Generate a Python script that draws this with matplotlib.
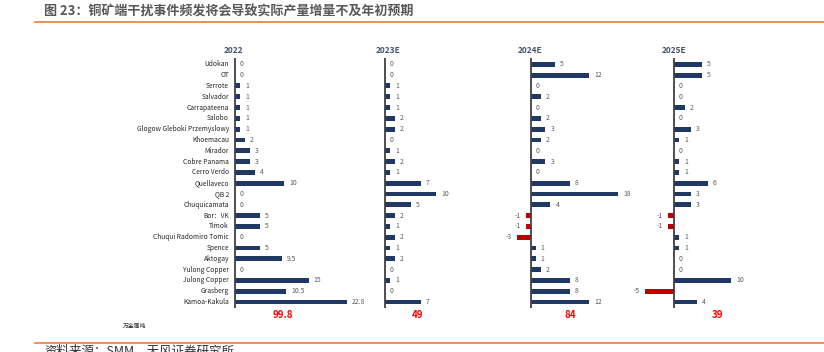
import matplotlib
matplotlib.use("Agg")
import matplotlib.pyplot as plt
from matplotlib.lines import Line2D

plt.rcParams['font.family'] = ['Noto Sans CJK SC', 'DejaVu Sans']

mines = ["Udokan", "OT", "Serrote", "Salvador", "Carrapateena", "Salobo",
         "Glogow Gleboki Przemyslowy", "Khoemacau", "Mirador", "Cobre Panama",
         "Cerro Verdo", "Quellaveco", "QB 2", "Chuquicamata", "Bor：VK", "Timok",
         "Chuqui Radomiro Tomic", "Spence", "Aktogay", "Yulong Copper",
         "Julong Copper", "Grasberg", "Kamoa-Kakula"]
years = ["2022", "2023E", "2024E", "2025E"]
v2022 = [0, 0, 1, 1, 1, 1, 1, 2, 3, 3, 4, 10, 0, 0, 5, 5, 0, 5, 9.5, 0, 15, 10.5, 22.8]
v2023 = [0, 0, 1, 1, 1, 2, 2, 0, 1, 2, 1, 7, 10, 5, 2, 1, 2, 1, 2, 0, 1, 0, 7]
v2024 = [5, 12, 0, 2, 0, 2, 3, 2, 0, 3, 0, 8, 18, 4, -1, -1, -3, 1, 1, 2, 8, 8, 12]
v2025 = [5, 5, 0, 0, 2, 0, 3, 1, 0, 1, 1, 6, 3, 3, -1, -1, 1, 1, 0, 0, 10, -5, 4]
totals = ["99.8", "49", "84", "39"]
series = [v2022, v2023, v2024, v2025]

W, H = 824, 352
fig = plt.figure(figsize=(W / 100, H / 100), dpi=100)
fig.patch.set_facecolor("white")

def fx(px):
    return px / W

def fy(py):
    return 1 - py / H

NAVY = "#1F3864"
RED = "#C00000"
GREY = "#595959"

# panel geometry (pixels)
axis_x = [235, 385, 531, 673.5]
scale = [4.9, 5.1, 4.83, 5.77]          # px per unit
title_x = [233, 388, 530.5, 673.5]
total_dx = [48, 33, 39, 44]
top_px, bot_px = 58, 308
row0_px, rowN_px = 64.3, 302.0
n = len(mines)
sp = (rowN_px - row0_px) / (n - 1)
ylim_top = -(row0_px - top_px) / sp
ylim_bot = (n - 1) + (bot_px - rowN_px) / sp

left_pad, right_pad = 60, 125
for k, vals in enumerate(series):
    s = scale[k]
    ax = fig.add_axes([fx(axis_x[k] - left_pad), fy(bot_px),
                       fx(left_pad + right_pad), (bot_px - top_px) / H])
    ax.set_xlim(-left_pad / s, right_pad / s)
    ax.set_ylim(ylim_bot, ylim_top)
    ax.axis("off")
    ypos = list(range(n))
    colors = [RED if v < 0 else NAVY for v in vals]
    ax.barh(ypos, vals, height=0.45, color=colors, zorder=2)
    ax.axvline(0, color="#404040", lw=1.3, zorder=3)
    off = 5 / s
    for y, v in zip(ypos, vals):
        lab = f"{v:g}"
        if v < 0:
            ax.text(v - off, y, lab, ha="right", va="center", fontsize=4.9, color=GREY)
        else:
            ax.text(v + off, y, lab, ha="left", va="center", fontsize=4.9, color=GREY)
    if k == 0:
        for y, m in zip(ypos, mines):
            ax.text(-6 / s, y, m, ha="right", va="center", fontsize=4.8, color="#262626",
                    clip_on=False)
    fig.text(fx(title_x[k]), fy(50.5), years[k], ha="center", va="center",
             fontsize=6, fontweight="bold", color="#44546A")
    fig.text(fx(axis_x[k] + total_dx[k]), fy(315.5), totals[k], ha="center", va="center",
             fontsize=7, fontweight="bold", color="#FF0000")

fig.text(fx(135), fy(326), "万金属吨", ha="center", va="center", fontsize=4.2, color="#262626")

# title and rules
fig.text(fx(44), fy(12), "图 23：铜矿端干扰事件频发将会导致实际产量增量不及年初预期",
         ha="left", va="center", fontsize=9.4, fontweight="bold", color="#595959")
fig.add_artist(Line2D([fx(35), 1], [fy(21.8), fy(21.8)], color="#ED7D31", lw=1.2))
fig.add_artist(Line2D([fx(35), 1], [fy(342.8), fy(342.8)], color="#ED7D31", lw=1.2))
fig.text(fx(44), fy(344.5), "资料来源：SMM，天风证券研究所", ha="left", va="top",
         fontsize=9, color="#333333")

fig.savefig("out.png", dpi=100, facecolor="white")
